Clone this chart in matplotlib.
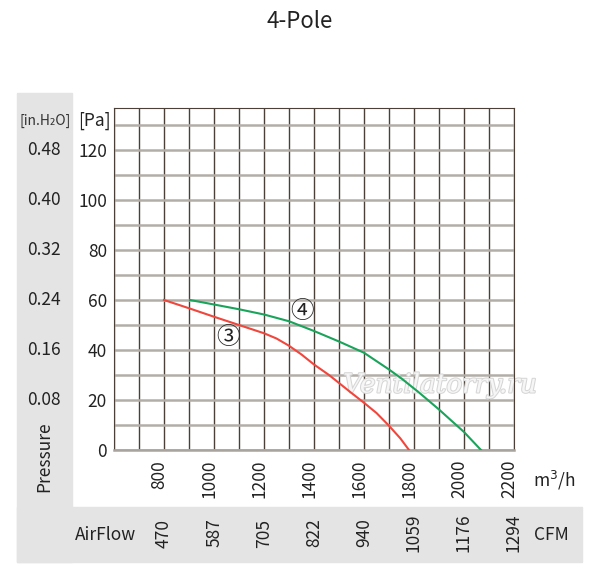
import matplotlib
matplotlib.use('Agg')
import matplotlib.pyplot as plt
import matplotlib.patheffects as pe
from matplotlib.patches import Rectangle
from matplotlib.transforms import offset_copy

plt.rcParams['font.family'] = ['Noto Sans CJK SC', 'DejaVu Sans']

# data
flow_ticks = [800, 1000, 1200, 1400, 1600, 1800, 2000, 2200]
cfm_labels = ['470', '587', '705', '822', '940', '1059', '1176', '1294']
pa_ticks = [0, 20, 40, 60, 80, 100, 120]
inh2o_labels = ['', '0.08', '0.16', '0.24', '0.32', '0.40', '0.48']

curve3_flow = [800, 900, 1000, 1100, 1200, 1250, 1300, 1350, 1400, 1460, 1550,
               1600, 1650, 1700, 1745, 1780]
curve3_pa = [60, 56.7, 53.3, 50, 46.7, 44.6, 41.7, 38.2, 34.2, 30, 22.8,
             18.9, 14.8, 9.7, 4.7, 0]
curve4_flow = [904, 1000, 1100, 1200, 1300, 1400, 1500, 1600, 1700, 1750, 1820,
               1900, 2000, 2068]
curve4_pa = [60, 58.2, 56.3, 54.2, 51.5, 47.6, 43.4, 38.9, 32.2, 28.6, 23,
             16.2, 7.2, 0]

W, H = 600, 574
fig = plt.figure(figsize=(W / 100, H / 100), dpi=100)

def fx(px):
    return px / W

def fy(py):
    return 1 - py / H

# grey panels
panel = '#e4e4e4'
fig.patches.append(Rectangle((fx(17), fy(562)), fx(72 - 17), (562 - 93) / H,
                             transform=fig.transFigure, color=panel, zorder=-10))
fig.patches.append(Rectangle((fx(17), fy(562)), fx(582 - 17), (562 - 507) / H,
                             transform=fig.transFigure, color=panel, zorder=-10))

ax = fig.add_axes([fx(114), fy(450), fx(400), (450 - 108) / H])
ax.set_xlim(600, 2200)
ax.set_ylim(0, 136.8)
ax.set_facecolor('white')

ax.set_xticks(range(600, 2201, 100))
ax.set_yticks(pa_ticks)
ax.set_yticks(range(10, 131, 20), minor=True)
ax.grid(axis='x', color='#4b4037', lw=1)
ax.grid(axis='y', which='both', color='#b2ada6', lw=1.8)
ax.tick_params(length=0, labelbottom=False, labelsize=12.5, pad=5, colors='#222222')
ax.tick_params(axis='y', which='minor', length=0)
for s in ['left', 'top', 'right']:
    ax.spines[s].set_color('#4b4037')
ax.spines['bottom'].set_color('#a8a39c')
ax.spines['bottom'].set_linewidth(1.8)
ax.set_axisbelow(True)

# watermark
ax.text(1904, 26, 'Ventilatorry.ru', fontsize=19, style='italic', family=['DejaVu Serif'],
        color='#f6f6f6', ha='center', va='center', zorder=1,
        path_effects=[pe.withStroke(linewidth=1.5, foreground='#d6d6d6')])

ax.plot(curve3_flow, curve3_pa, color='#f0463c', lw=1.5, zorder=3)
ax.plot(curve4_flow, curve4_pa, color='#1aa35a', lw=1.5, zorder=3)
ax.text(1056, 45.2, '③', fontsize=17, ha='center', va='center', color='#222222', zorder=4)
ax.text(1352, 55.6, '④', fontsize=17, ha='center', va='center', color='#222222', zorder=4)

# in.H2O labels
yt = ax.get_yaxis_transform()
for v, lab in zip(pa_ticks, inh2o_labels):
    if lab:
        ax.text(-0.175, v, lab, transform=yt, ha='center', va='center',
                fontsize=12.5, color='#222222', clip_on=False)

# flow tick labels and CFM labels
xt = ax.get_xaxis_transform()
lab_tr = offset_copy(xt, fig=fig, x=-5, y=-10, units='dots')
cfm_tr = offset_copy(xt, fig=fig, x=0, y=-83, units='dots')
for f, c in zip(flow_ticks, cfm_labels):
    ax.text(f, 0, str(f), transform=lab_tr, rotation=90, ha='center', va='top',
            fontsize=12.5, color='#222222', clip_on=False)
    ax.text(f, 0, c, transform=cfm_tr, rotation=90, ha='center', va='center',
            fontsize=12.5, color='#222222', clip_on=False)

fig.text(fx(300), fy(22), '4-Pole', ha='center', va='center', fontsize=16, color='#222222')
fig.text(fx(45), fy(121), '[in.H₂O]', ha='center', va='center', fontsize=10,
         color='#333333')
fig.text(fx(94), fy(121), '[Pa]', ha='center', va='center', fontsize=12.5, color='#222222')
fig.text(fx(44), fy(457), 'Pressure', ha='center', va='center', rotation=90,
         fontsize=12.5, color='#222222')
fig.text(fx(105), fy(535), 'AirFlow', ha='center', va='center', fontsize=12.5, color='#222222')
fig.text(fx(554), fy(480), 'm$^3$/h', ha='center', va='center', fontsize=12.5, color='#222222')
fig.text(fx(551), fy(535), 'CFM', ha='center', va='center', fontsize=12.5, color='#222222')

fig.savefig('out.png', dpi=100)
